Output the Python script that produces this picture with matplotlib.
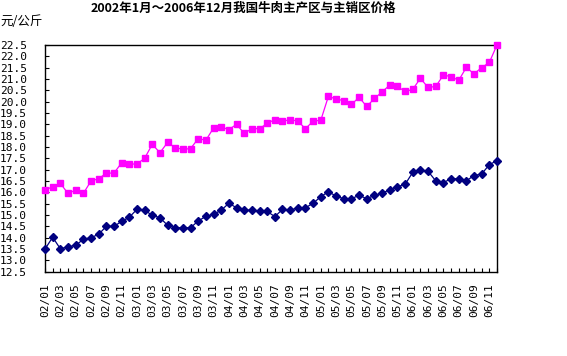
import matplotlib
matplotlib.use("Agg")
import matplotlib.pyplot as plt

plt.rcParams['font.family'] = ['Noto Sans CJK SC', 'DejaVu Sans']

months = ["%02d/%02d" % (y, m) for y in range(2, 7) for m in range(1, 13)]

# 主销区 (magenta squares)
sales = [16.1, 16.25, 16.4, 15.95, 16.1, 15.95, 16.5, 16.6, 16.85, 16.85,
         17.3, 17.25, 17.25, 17.5, 18.12, 17.75, 18.2, 17.97, 17.9, 17.93,
         18.37, 18.3, 18.84, 18.88, 18.77, 19.0, 18.6, 18.81, 18.81, 19.04,
         19.21, 19.13, 19.21, 19.14, 18.81, 19.14, 19.18, 20.24, 20.11, 20.05,
         19.88, 20.19, 19.79, 20.14, 20.43, 20.73, 20.67, 20.45, 20.54, 21.03,
         20.63, 20.67, 21.17, 21.11, 20.94, 21.51, 21.23, 21.5, 21.73, 22.5]

# 主产区 (navy diamonds)
prod = [13.5, 14.02, 13.51, 13.6, 13.66, 13.93, 14.0, 14.15, 14.5, 14.5,
        14.72, 14.9, 15.25, 15.21, 14.99, 14.88, 14.55, 14.44, 14.44, 14.44,
        14.74, 14.94, 15.03, 15.21, 15.52, 15.32, 15.21, 15.21, 15.16, 15.16,
        14.93, 15.25, 15.21, 15.32, 15.32, 15.52, 15.81, 16.03, 15.83, 15.72,
        15.72, 15.87, 15.72, 15.87, 15.96, 16.12, 16.25, 16.35, 16.88, 16.97,
        16.93, 16.51, 16.43, 16.6, 16.6, 16.51, 16.74, 16.81, 17.22, 17.4]

yticks = [12.5 + 0.5 * i for i in range(21)]

fig = plt.figure(figsize=(5.67, 3.56), dpi=100)
ax = fig.add_axes([0.0794, 0.2368, 0.7971, 0.6368])

x = list(range(len(months)))
ax.plot(x, sales, color='#FF00FF', lw=0.9, marker='s', ms=4.3,
        mec='#FF00FF', mfc='#FF00FF', clip_on=False, zorder=3)
ax.plot(x, prod, color='#000080', lw=0.9, marker='D', ms=4.0,
        mec='#000080', mfc='#000080', clip_on=False, zorder=3)

ax.set_xlim(0, len(months) - 1)
ax.set_ylim(12.5, 22.5)
ax.set_yticks(yticks)
ax.set_yticklabels(["%.1f" % v for v in yticks], family='DejaVu Sans Mono', fontsize=8)
ax.set_xticks(x)
ax.set_xticklabels([m if i % 2 == 0 else "" for i, m in enumerate(months)],
                   rotation=90, family='DejaVu Sans Mono', fontsize=8)
ax.tick_params(axis='both', direction='in', length=3, width=0.8)
ax.tick_params(axis='y', pad=13)
ax.tick_params(axis='x', pad=8)
for s in ax.spines.values():
    s.set_linewidth(1.0)

fig.text(0.43, 0.995, "2002年1月～2006年12月我国牛肉主产区与主销区价格",
         ha='center', va='top', fontsize=9, fontweight='bold')
fig.text(0.0, 0.94, "元/公斤", ha='left', va='center', fontsize=9)

fig.savefig("out.png", dpi=100)
